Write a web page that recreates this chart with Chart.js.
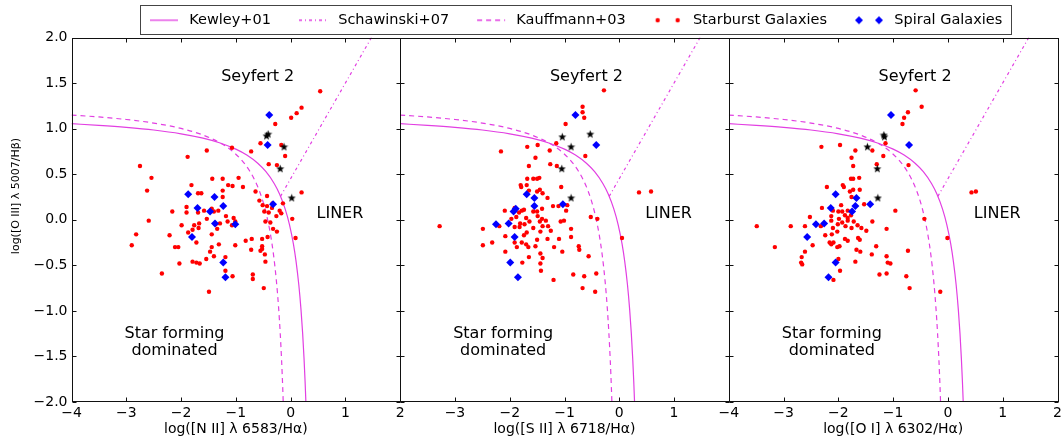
<!DOCTYPE html>
<html>
<head>
<meta charset="utf-8">
<title>BPT diagnostic diagrams</title>
<script src="https://cdn.jsdelivr.net/npm/chart.js@4.4.1/dist/chart.umd.min.js"></script>
<style>
  html, body { margin: 0; padding: 0; background: #ffffff; }
  #wrap { width: 1063px; height: 442px; }
  canvas { display: block; }
</style>
</head>
<body>
<div id="wrap"><canvas id="bpt" width="1063" height="442"></canvas></div>
<script>
const FONT = '"DejaVu Sans", "Liberation Sans", Arial, sans-serif';
const LINE_COLOR = '#e23fe2';
const RED = '#ff0000';
const BLUE = '#0000ff';
const BLACK = '#000000';

// Axis ticks
const xTickValues = [-4, -3, -2, -1, 0, 1, 2];
const yTickValues = [-2, -1.5, -1, -0.5, 0, 0.5, 1, 1.5, 2];

// Demarcation curves, sampled as [log x-ratio, log([O III]/Hb)]
const kewley01 = [
  [-4.00, 1.054], [-3.50, 1.036], [-3.00, 1.014], [-2.50, 0.985], [-2.00, 0.943],
  [-1.60, 0.895], [-1.30, 0.845], [-1.00, 0.775], [-0.80, 0.710], [-0.60, 0.620],
  [-0.45, 0.527], [-0.30, 0.398], [-0.20, 0.280], [-0.10, 0.120], [-0.02, -0.055],
  [0.05, -0.262], [0.10, -0.459], [0.15, -0.716], [0.19, -0.989], [0.22, -1.250],
  [0.245, -1.521], [0.265, -1.786], [0.28, -2.021]
];
const kauffmann03 = [
  [-4.00, 1.149], [-3.50, 1.128], [-3.00, 1.100], [-2.50, 1.061], [-2.00, 1.002],
  [-1.60, 0.930], [-1.30, 0.848], [-1.10, 0.770], [-0.90, 0.658], [-0.75, 0.538],
  [-0.62, 0.390], [-0.52, 0.230], [-0.44, 0.055], [-0.37, -0.152], [-0.31, -0.394],
  [-0.26, -0.668], [-0.22, -0.959], [-0.19, -1.242], [-0.165, -1.537], [-0.145, -1.828],
  [-0.13, -2.089]
];
const schawinski07 = [[-0.184, 0.257], [1.476, 2.0]];

// [N II] panel
const niiStarburst = [
  [0.54,1.41],[0.20,1.23],[0.11,1.17],[0.01,1.12],[-0.28,1.05],[-0.55,0.84],[-0.17,0.82],[-1.07,0.79],
  [-0.72,0.75],[-1.53,0.76],[-1.88,0.69],[-0.10,0.70],[-0.40,0.61],[-0.25,0.60],[-2.75,0.59],[-2.54,0.46],
  [-1.43,0.45],[-1.24,0.45],[-0.95,0.46],[-1.81,0.38],[-1.14,0.38],[-1.06,0.37],[-0.87,0.36],[-2.62,0.32],
  [-1.69,0.29],[-1.63,0.29],[-1.24,0.32],[-0.64,0.31],[0.20,0.30],[-0.43,0.26],[-1.24,0.25],[-0.57,0.21],
  [-0.14,0.18],[-0.51,0.16],[-0.43,0.15],[-0.33,0.18],[-2.16,0.09],[-1.90,0.14],[-1.90,0.08],[-1.69,0.08],
  [-1.58,0.10],[-1.44,0.12],[-1.40,0.09],[-1.32,0.10],[-1.18,0.04],[-1.04,0.02],[-1.01,-0.02],[-1.15,-0.02],
  [-1.07,-0.06],[-1.29,-0.04],[-1.37,-0.05],[-1.34,-0.10],[-1.53,0.01],[-1.67,-0.04],[-1.76,-0.06],[-1.68,-0.09],
  [-1.79,-0.11],[-1.99,-0.06],[-1.87,-0.14],[-2.59,-0.01],[-0.48,0.09],[-0.40,0.08],[-0.34,0.13],[-0.20,0.10],
  [-0.17,0.07],[-0.26,0.04],[-0.46,-0.02],[-0.37,-0.03],[0.03,0.01],[-0.32,-0.10],[-0.25,-0.13],[-2.21,-0.17],
  [-2.82,-0.16],[-1.44,-0.16],[-1.72,-0.25],[-0.82,-0.23],[-0.71,-0.21],[-0.52,-0.21],[-0.42,-0.19],[0.09,-0.20],
  [-2.11,-0.30],[-2.05,-0.30],[-1.44,-0.30],[-1.31,-0.27],[-1.01,-0.28],[-2.90,-0.28],[-1.47,-0.35],[-1.40,-0.40],
  [-1.54,-0.43],[-0.72,-0.33],[-0.52,-0.29],[-0.52,-0.32],[-0.55,-0.34],[-0.47,-0.38],[-0.46,-0.46],[-2.03,-0.48],
  [-1.79,-0.46],[-1.72,-0.47],[-1.66,-0.48],[-2.35,-0.59],[-1.19,-0.56],[-1.06,-0.62],[-0.69,-0.60],[-0.69,-0.65],
  [-0.49,-0.75],[-1.49,-0.79],[-1.19,-0.41]
];
const niiSpiral = [
  [-0.39,1.15],[-0.42,0.82],[-1.87,0.28],[-1.39,0.25],[-1.70,0.13],[-1.23,0.15],[-1.47,0.09],
  [-0.32,0.17],[-1.38,-0.04],[-1.01,-0.05],[-1.80,-0.19],[-1.23,-0.47],[-1.19,-0.63]
];
const niiStars = [[-0.44,0.92],[-0.41,0.94],[-0.12,0.80],[-0.19,0.56],[0.02,0.24]];

// [S II] panel
const siiStarburst = [
  [-0.28,1.42],[-0.67,1.24],[-0.67,1.18],[-0.64,1.12],[-0.98,1.05],[-1.15,0.84],[-1.49,0.82],[-1.68,0.80],
  [-2.16,0.75],[-1.27,0.76],[-0.62,0.70],[-1.53,0.68],[-1.26,0.61],[-1.14,0.59],[-1.65,0.59],[-1.68,0.45],
  [-1.57,0.45],[-1.50,0.45],[-1.46,0.46],[-1.80,0.38],[-1.79,0.36],[-1.69,0.38],[-1.06,0.36],[-1.45,0.33],
  [-1.65,0.32],[-1.50,0.31],[-1.40,0.29],[-1.31,0.24],[-1.21,0.15],[-1.11,0.15],[-0.95,0.16],[-0.97,0.10],
  [-2.09,0.10],[-1.91,0.13],[-1.78,0.10],[-1.74,0.11],[-1.83,0.08],[-1.88,0.03],[-1.97,0.01],[-1.81,-0.04],
  [-1.70,0.02],[-1.57,0.09],[-1.50,0.09],[-1.41,0.12],[-1.49,0.04],[-1.41,0.01],[-1.34,-0.01],[-1.45,-0.02],
  [-1.40,-0.07],[-1.30,-0.07],[-1.25,-0.12],[-1.07,-0.02],[-1.01,-0.01],[-0.88,-0.10],[-0.52,0.03],[-0.40,0.01],
  [-2.19,-0.07],[-1.91,-0.08],[-1.82,-0.08],[-1.73,-0.05],[-1.64,-0.02],[-1.57,-0.09],[-1.44,-0.13],[-1.69,-0.14],
  [-1.74,-0.17],[-2.08,-0.18],[-2.49,-0.10],[-3.28,-0.07],[-1.91,-0.25],[-1.78,-0.25],[-1.70,-0.27],[-1.66,-0.30],
  [-1.53,-0.29],[-1.50,-0.22],[-1.31,-0.21],[-1.10,-0.21],[-0.88,-0.19],[-1.19,-0.30],[-1.04,-0.35],[-0.74,-0.29],
  [-0.73,-0.33],[-0.56,-0.40],[-2.49,-0.28],[-2.32,-0.25],[-2.08,-0.35],[-1.87,-0.30],[-1.65,-0.41],[-1.44,-0.37],
  [-1.40,-0.42],[-1.44,-0.48],[-1.77,-0.47],[-1.43,-0.56],[-1.20,-0.66],[-0.84,-0.60],[-0.64,-0.62],[-0.42,-0.59],
  [-0.67,-0.75],[-0.44,-0.79],[0.05,-0.20],[0.36,0.30],[0.58,0.31]
];
const siiSpiral = [
  [-0.80,1.15],[-0.42,0.82],[-1.69,0.28],[-1.55,0.24],[-1.55,0.15],[-1.03,0.17],[-1.89,0.12],
  [-1.93,0.09],[-2.02,-0.04],[-2.25,-0.05],[-1.91,-0.19],[-1.99,-0.47],[-1.85,-0.63]
];
const siiStars = [[-1.04,0.91],[-0.53,0.94],[-0.88,0.80],[-1.05,0.56],[-0.88,0.24]];

// [O I] panel
const oiStarburst = [
  [-0.59,1.42],[-0.48,1.24],[-0.73,1.18],[-0.80,1.12],[-0.83,1.05],[-1.14,0.84],[-1.38,0.76],[-2.31,0.80],
  [-1.97,0.82],[-1.69,0.76],[-1.18,0.70],[-1.76,0.68],[-1.30,0.61],[-1.73,0.59],[-0.72,0.60],[-1.77,0.45],
  [-1.73,0.45],[-1.62,0.46],[-2.21,0.36],[-1.92,0.38],[-1.90,0.36],[-1.73,0.33],[-1.61,0.33],
  [-1.79,0.31],[-1.76,0.25],[-1.95,0.16],[-2.30,0.13],[-2.10,0.10],[-2.00,0.09],[-1.93,0.09],[-1.83,0.10],
  [-1.83,0.02],[-1.77,0.05],[-1.88,0.05],[-2.13,0.04],[-2.13,-0.01],[-1.99,0.01],[-1.93,-0.03],[-1.83,-0.01],
  [-1.72,-0.02],[-1.65,-0.06],[-1.58,-0.09],[-1.76,-0.09],[-1.87,-0.07],[-2.01,-0.05],[-2.10,-0.09],[-2.32,-0.07],
  [-2.52,0.03],[-2.61,-0.07],[-2.87,-0.07],[-3.49,-0.07],[-1.53,0.17],[-1.38,-0.02],[-1.49,-0.12],[-1.12,-0.10],
  [-0.96,0.10],[-0.43,0.01],[-2.24,-0.17],[-2.12,-0.16],[-2.02,-0.13],[-1.88,-0.21],[-1.83,-0.23],[-1.64,-0.20],
  [-1.61,-0.22],[-2.16,-0.25],[-2.13,-0.27],[-2.09,-0.25],[-2.02,-0.30],[-1.98,-0.29],[-2.47,-0.28],[-2.61,-0.35],
  [-3.16,-0.30],[-2.67,-0.41],[-2.68,-0.47],[-2.66,-0.49],[-1.67,-0.33],[-1.60,-0.35],[-1.39,-0.38],[-1.31,-0.29],
  [-1.12,-0.40],[-1.10,-0.47],[-1.05,-0.48],[-1.69,-0.46],[-2.00,-0.43],[-1.97,-0.56],[-2.09,-0.66],[-1.25,-0.60],
  [-1.12,-0.59],[-0.73,-0.34],[-0.76,-0.62],[-0.70,-0.75],[-0.01,-0.20],[-0.14,-0.79],[0.43,0.30],[0.51,0.31]
];
const oiSpiral = [
  [-1.04,1.15],[-0.71,0.82],[-2.05,0.28],[-1.67,0.24],[-2.14,0.13],[-1.69,0.15],[-1.42,0.17],
  [-1.75,0.09],[-2.26,-0.04],[-2.41,-0.05],[-2.57,-0.19],[-2.05,-0.47],[-2.18,-0.63]
];
const oiStars = [[-1.17,0.93],[-1.16,0.91],[-1.47,0.80],[-1.29,0.56],[-1.28,0.24]];

const panels = [
  { id: 'x1', title: 'log([N II] \u03bb 6583/H\u03b1)', starburst: niiStarburst, spiral: niiSpiral, agn: niiStars, edgeLabels: true },
  { id: 'x2', title: 'log([S II] \u03bb 6718/H\u03b1)', starburst: siiStarburst, spiral: siiSpiral, agn: siiStars, edgeLabels: false },
  { id: 'x3', title: 'log([O I] \u03bb 6302/H\u03b1)', starburst: oiStarburst, spiral: oiSpiral, agn: oiStars, edgeLabels: true }
];
const yTitle = 'log([O III] \u03bb 5007/H\u03b2)';

// Region names, placed in data coordinates of each panel
const regionLabels = [
  { lines: ['Seyfert 2'], x: -0.60, y: 1.57 },
  { lines: ['LINER'], x: 0.90, y: 0.06 },
  { lines: ['Star forming', 'dominated'], x: -2.12, y: -1.35 }
];

// ---------- marker / legend glyphs ----------
function starGlyph(size, color) {
  const c = document.createElement('canvas');
  c.width = size; c.height = size;
  const g = c.getContext('2d');
  const cx = size / 2, cy = size / 2 + 0.3, R = size / 2 - 0.2, r = R * 0.42;
  g.beginPath();
  for (let i = 0; i < 10; i++) {
    const a = -Math.PI / 2 + i * Math.PI / 5;
    const rr = i % 2 ? r : R;
    g.lineTo(cx + rr * Math.cos(a), cy + rr * Math.sin(a));
  }
  g.closePath();
  g.fillStyle = color;
  g.fill();
  return c;
}
const starMarker = starGlyph(9, BLACK);

// Legend handle: blank lead-in, 28px sample, short trailing gap before the text
const ICON_LEAD = 18, ICON_SAMPLE = 28, ICON_TRAIL = 4;
const ICON_W = ICON_LEAD + ICON_SAMPLE + ICON_TRAIL, ICON_H = 12;
function lineIcon(dash) {
  const c = document.createElement('canvas');
  c.width = ICON_W; c.height = ICON_H;
  const g = c.getContext('2d');
  g.strokeStyle = LINE_COLOR; g.lineWidth = 1.3; g.setLineDash(dash);
  g.beginPath(); g.moveTo(ICON_LEAD, ICON_H / 2); g.lineTo(ICON_LEAD + ICON_SAMPLE, ICON_H / 2); g.stroke();
  return c;
}
function markerIcon(kind, color) {
  const c = document.createElement('canvas');
  c.width = ICON_W; c.height = ICON_H;
  const g = c.getContext('2d');
  g.fillStyle = color;
  [ICON_LEAD + 4, ICON_LEAD + 24].forEach(x => {
    const y = ICON_H / 2;
    g.beginPath();
    if (kind === 'dot') {
      g.arc(x, y, 2.2, 0, Math.PI * 2);
    } else {
      g.moveTo(x - 4, y); g.lineTo(x, y - 4); g.lineTo(x + 4, y); g.lineTo(x, y + 4); g.closePath();
    }
    g.fill();
  });
  return c;
}
const legendEntries = [
  { text: 'Kewley+01', icon: lineIcon([]) },
  { text: 'Schawinski+07', icon: lineIcon([3, 3, 1, 3]) },
  { text: 'Kauffmann+03', icon: lineIcon([5, 4]) },
  { text: 'Starburst Galaxies', icon: markerIcon('dot', RED) },
  { text: 'Spiral Galaxies', icon: markerIcon('diamond', BLUE) }
];

// ---------- datasets ----------
const toXY = arr => arr.map(([x, y]) => ({ x, y }));
const datasets = [];
panels.forEach(p => {
  const common = { xAxisID: p.id, yAxisID: 'y' };
  datasets.push(
    { ...common, label: 'Kewley+01', data: toXY(kewley01), showLine: true, borderColor: LINE_COLOR,
      borderWidth: 1.2, pointRadius: 0, pointHoverRadius: 0, cubicInterpolationMode: 'monotone', order: 3 },
    { ...common, label: 'Schawinski+07', data: toXY(schawinski07), showLine: true, borderColor: LINE_COLOR,
      borderWidth: 1.2, borderDash: [3, 3, 1, 3], pointRadius: 0, pointHoverRadius: 0, order: 3 },
    { ...common, label: 'Kauffmann+03', data: toXY(kauffmann03), showLine: true, borderColor: LINE_COLOR,
      borderWidth: 1.2, borderDash: [5, 4], pointRadius: 0, pointHoverRadius: 0, cubicInterpolationMode: 'monotone', order: 3 },
    { ...common, label: 'Starburst Galaxies', data: toXY(p.starburst), pointStyle: 'circle', pointRadius: 2.2,
      pointBackgroundColor: RED, pointBorderWidth: 0, order: 2 },
    { ...common, label: 'Spiral Galaxies', data: toXY(p.spiral), pointStyle: 'rectRot', pointRadius: 4,
      pointBackgroundColor: BLUE, pointBorderWidth: 0, order: 1 },
    { ...common, label: '', data: toXY(p.agn), pointStyle: starMarker, pointRadius: 4.5, order: 0 }
  );
});

// ---------- scales ----------
const minus = v => (v < 0 ? '\u2212' : '');
function xScale(p) {
  return {
    type: 'linear', position: 'bottom', stack: 'panels', stackWeight: 1,
    min: -4, max: 2,
    afterBuildTicks: s => { s.ticks = xTickValues.map(v => ({ value: v })); },
    ticks: {
      autoSkip: false, maxRotation: 0, minRotation: 0, padding: 3, color: BLACK,
      font: { family: FONT, size: 14 },
      callback: v => (!p.edgeLabels && (v === -4 || v === 2)) ? '' : minus(v) + Math.abs(v)
    },
    grid: { display: false, drawTicks: false },
    border: { display: false },
    title: { display: true, text: p.title, color: BLACK, font: { family: FONT, size: 14 }, padding: { top: 0, bottom: 4 } },
    afterFit: s => { s.height = 40; s.paddingLeft = 0; s.paddingRight = 0; }
  };
}
const scales = {
  y: {
    type: 'linear', position: 'left', min: -2, max: 2,
    afterBuildTicks: s => { s.ticks = yTickValues.map(v => ({ value: v })); },
    ticks: {
      autoSkip: false, padding: 4, color: BLACK, font: { family: FONT, size: 14 },
      callback: v => minus(v) + Math.abs(v).toFixed(1)
    },
    grid: { display: false, drawTicks: false },
    border: { display: false },
    afterFit: s => { s.width = 71.5; }
  }
};
panels.forEach(p => { scales[p.id] = xScale(p); });

// ---------- frames, inward ticks, region names, legend frame, y title ----------
const TICK = 4;
const LEGEND_SAMPLE_START = 150;
const LEGEND_PAD = 10;
const panelDecor = {
  id: 'panelDecor',
  afterLayout(chart) {
    const lg = chart.legend;
    const shift = (LEGEND_SAMPLE_START - ICON_LEAD - LEGEND_PAD) - lg.left;
    lg.left += shift; lg.right += shift;
  },
  afterDatasetsDraw(chart) {
    const { ctx, chartArea: a, scales: sc } = chart;
    const ys = sc.y;
    ctx.save();
    ctx.fillStyle = BLACK;
    ctx.font = '16px ' + FONT;
    ctx.textAlign = 'center';
    ctx.textBaseline = 'middle';
    panels.forEach(p => {
      const xs = sc[p.id];
      regionLabels.forEach(r => {
        const cx = xs.getPixelForValue(r.x), cy = ys.getPixelForValue(r.y);
        const n = r.lines.length;
        r.lines.forEach((t, i) => ctx.fillText(t, cx, cy + (i - (n - 1) / 2) * 17));
      });
    });
    ctx.strokeStyle = '#111';
    ctx.lineWidth = 1;
    const top = Math.round(a.top) + 0.5, bot = Math.round(a.bottom) - 0.5;
    panels.forEach(p => {
      const xs = sc[p.id];
      const L = Math.round(xs.left) + 0.5, R = Math.min(Math.round(xs.right) + 0.5, chart.width - 0.5);
      ctx.strokeRect(L, top, R - L, bot - top);
      ctx.beginPath();
      xTickValues.forEach(v => {
        const px = Math.round(xs.getPixelForValue(v)) + 0.5;
        ctx.moveTo(px, bot); ctx.lineTo(px, bot - TICK);
        ctx.moveTo(px, top); ctx.lineTo(px, top + TICK);
      });
      yTickValues.forEach(v => {
        const py = Math.round(ys.getPixelForValue(v)) + 0.5;
        ctx.moveTo(L, py); ctx.lineTo(L + TICK, py);
        ctx.moveTo(R, py); ctx.lineTo(R - TICK, py);
      });
      ctx.stroke();
    });
    ctx.restore();
  },
  afterDraw(chart) {
    const { ctx } = chart;
    const hb = chart.legend.legendHitBoxes;
    ctx.save();
    if (hb && hb.length) {
      const first = hb[0], last = hb[hb.length - 1];
      const l = first.left + ICON_LEAD - 10, r = last.left + last.width + 9;
      const t = first.top - 8, b = first.top + first.height + 6;
      ctx.strokeStyle = '#444';
      ctx.lineWidth = 1;
      ctx.strokeRect(Math.round(l) + 0.5, Math.round(t) + 0.5, Math.round(r - l), Math.round(b - t));
    }
    ctx.translate(16, 196);
    ctx.rotate(-Math.PI / 2);
    ctx.font = '11px ' + FONT;
    ctx.fillStyle = BLACK;
    ctx.textAlign = 'center';
    ctx.textBaseline = 'middle';
    ctx.fillText(yTitle, 0, 0);
    ctx.restore();
  }
};

Chart.defaults.font.family = FONT;
Chart.defaults.color = BLACK;

new Chart(document.getElementById('bpt'), {
  type: 'scatter',
  data: { datasets },
  options: {
    responsive: false,
    maintainAspectRatio: false,
    animation: false,
    events: [],
    layout: { padding: { top: 3, right: 1, bottom: 0, left: 0 } },
    plugins: {
      tooltip: { enabled: false },
      legend: {
        display: true, position: 'top', align: 'start', fullSize: true,
        labels: {
          usePointStyle: true, pointStyleWidth: ICON_W, padding: LEGEND_PAD, color: BLACK,
          font: { family: FONT, size: 14.5 },
          generateLabels: () => legendEntries.map((e, i) => ({
            text: e.text, pointStyle: e.icon, datasetIndex: i, hidden: false,
            lineWidth: 0, fontColor: BLACK, strokeStyle: 'rgba(0,0,0,0)', fillStyle: 'rgba(0,0,0,0)'
          }))
        }
      }
    },
    scales
  },
  plugins: [panelDecor]
});
</script>
</body>
</html>
